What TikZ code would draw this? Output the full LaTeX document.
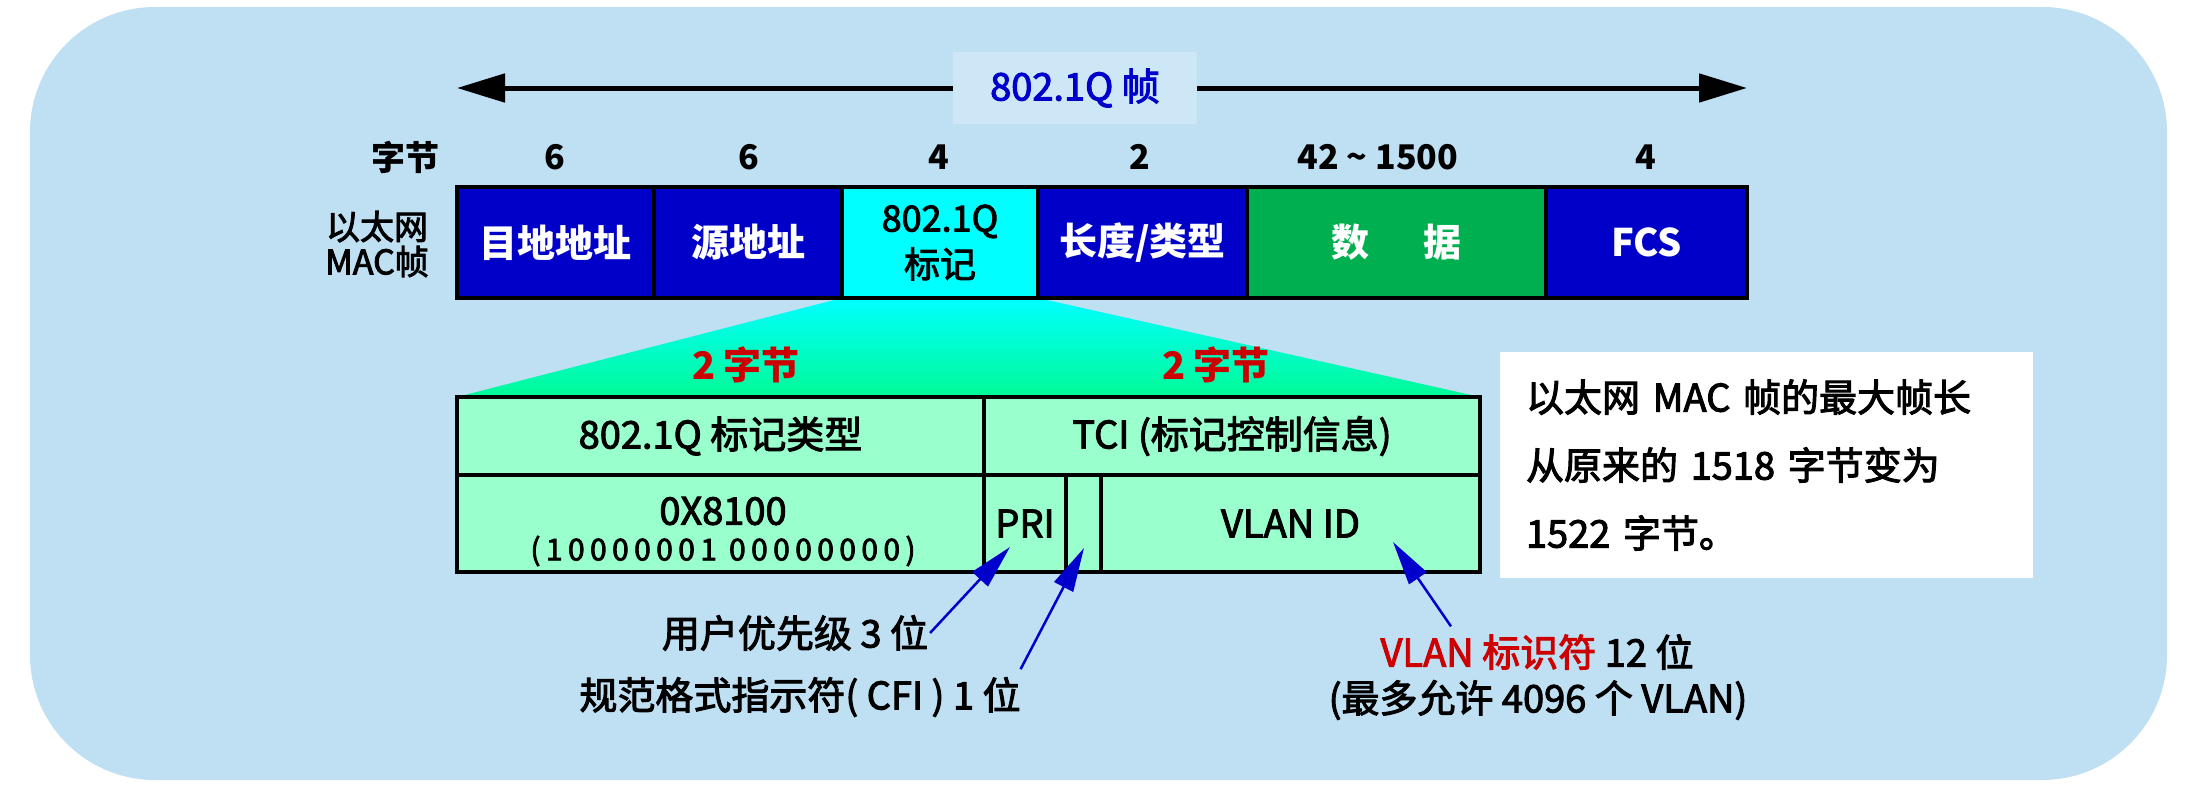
\documentclass[tikz,border=0pt]{standalone}
\usepackage{fontspec}
\setmainfont{Noto Sans CJK SC}
\newfontfamily\medfont{Noto Sans CJK SC}[FakeBold=2.6]
\usetikzlibrary{arrows.meta,backgrounds,calc}
\definecolor{bgblue}{RGB}{191,223,242}
\definecolor{titlebg}{RGB}{206,231,247}
\definecolor{dblue}{RGB}{0,0,200}
\definecolor{dgreen}{RGB}{0,176,80}
\definecolor{aqua}{RGB}{0,255,255}
\definecolor{tgreen}{RGB}{153,255,204}
\definecolor{trapgreen}{RGB}{0,250,150}
\definecolor{rred}{RGB}{204,0,0}
\definecolor{tblue}{RGB}{0,0,204}
\begin{document}
\begin{tikzpicture}[x=1pt,y=-1pt,
  every node/.style={inner sep=0pt,outer sep=0pt},
  toparrow/.style={line width=5pt,-{Triangle[length=48pt,width=28pt]}},
  fbox/.style={draw=black,line width=4pt,minimum height=111pt,anchor=north west,
    text=white,font=\fontsize{38}{40}\selectfont\bfseries},
  tcell/.style={draw=black,line width=4pt,fill=tgreen,anchor=north west,
    font=\fontsize{38}{40}\medfont},
  numf/.style={font=\fontsize{34}{38}\selectfont\bfseries},
  txt/.style={font=\fontsize{38}{44}\medfont},
  redf/.style={font=\fontsize{38}{40}\selectfont\bfseries,text=rred},
  arr/.style={draw=tblue,line width=2.5pt,-{Triangle[length=44pt,width=21pt]}}
]
\useasboundingbox (0,0) rectangle (2190,792);
\begin{scope}[on background layer]
  \fill[bgblue,rounded corners=125pt] (30,7) rectangle (2167,780);
\end{scope}

% title arrow
\node[fill=titlebg,minimum width=244pt,minimum height=71pt,text=tblue,
  font=\fontsize{38}{40}\medfont] (title) at (1075,88) {802.1Q 帧};
\coordinate (aL) at (457,88);
\coordinate (aR) at (1747,88);
\draw[toparrow] (title.west) -- (aL);
\draw[toparrow] (title.east) -- (aR);

% byte counts
\node[numf] (zj) at (405,157) {字节};
\node[numf] (n1) at (555,157) {6};
\node[numf] (n2) at (749,157) {6};
\node[numf] (n3) at (939,157) {4};
\node[numf] (n4) at (1140,157) {2};
\node[numf] (n5) at (1378,157) {42 \textasciitilde{} 1500};
\node[numf] (n6) at (1646,157) {4};

% MAC frame
\node[align=center,font=\fontsize{34}{35}\medfont] (mac) at (377,244) {以太网\\MAC帧};
\node[fbox,fill=dblue,minimum width=197pt] (dst) at (457,187) {目地地址};
\node[fbox,fill=dblue,minimum width=188pt] (src) at (654,187) {源地址};
\node[fbox,fill=aqua,minimum width=196pt,text=black,align=center,
  font=\fontsize{36}{46}\medfont] (tag) at (842,187) {802.1Q\\标记};
\node[fbox,fill=dblue,minimum width=209pt] (len) at (1038,187) {长度/类型};
\node[fbox,fill=dgreen,minimum width=299pt] (data) at (1247,187) {数\hspace{1.4em}据};
\node[fbox,fill=dblue,minimum width=201pt] (fcs) at (1546,187) {FCS};

% tag table
\node[tcell,minimum width=527pt,minimum height=78pt] (r1a) at (457,397) {802.1Q 标记类型};
\node[tcell,minimum width=496pt,minimum height=78pt] (r1b) at (984,397) {TCI (标记控制信息)};
\node[tcell,minimum width=527pt,minimum height=97pt] (r2a) at (457,475) {};
\node[tcell,minimum width=82pt,minimum height=97pt] (pri) at (984,475) {PRI};
\node[tcell,minimum width=35pt,minimum height=97pt] (cfi) at (1066,475) {};
\node[tcell,minimum width=379pt,minimum height=97pt] (vid) at (1101,475) {VLAN ID};
\node[font=\fontsize{38}{40}\medfont] (hex) at (723,511) {0X8100};
\node[font=\fontsize{30}{32}\medfont\addfontfeature{LetterSpace=18}] (bin) at (723,551) {(10000001 00000000)};

\begin{scope}[on background layer]
  \shade[top color=aqua,bottom color=trapgreen]
    (tag.south west) -- (tag.south east) -- (r1b.north east) -- (r1a.north west) -- cycle;
\end{scope}

\node[redf] (b1) at (746,365) {2 字节};
\node[redf] (b2) at (1216,365) {2 字节};

% note box
\node[fill=white,anchor=north west,minimum width=533pt,minimum height=226pt,
  text width=481pt,inner xsep=26pt,align=left,
  font=\fontsize{38}{68}\medfont] (note) at (1500,352)
  {以太网 MAC 帧的最大帧长\\从原来的 1518 字节变为\\1522 字节。};

% bottom labels
\node[txt] (lab1) at (795,633) {用户优先级 3 位};
\node[txt] (lab2) at (800,697) {规范格式指示符( CFI ) 1 位};
\node[txt] (lab3) at (1537,652) {\textcolor{rred}{VLAN 标识符} 12 位};
\node[txt] (lab4) at (1538,700) {(最多允许 4096 个 VLAN)};

\coordinate (t1) at (1010,547);
\coordinate (t2) at (1084,548);
\coordinate (t3) at (1393,542);
\draw[arr] ([xshift=2pt]lab1.east) -- (t1);
\draw[arr] ([yshift=8pt]lab2.north east) -- (t2);
\draw[arr] ([xshift=-86pt,yshift=8pt]lab3.north) -- (t3);
\end{tikzpicture}
\end{document}
